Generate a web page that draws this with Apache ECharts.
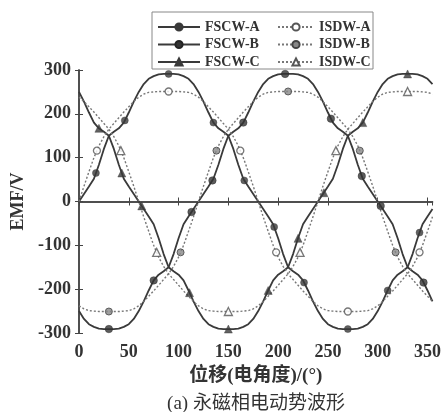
<!DOCTYPE html>
<html><head><meta charset="utf-8">
<script src="https://cdn.jsdelivr.net/npm/echarts@6/dist/echarts.min.js"></script>
<style>html,body{margin:0;padding:0;background:#fff}#c{width:444px;height:412px}</style>
</head><body><div id="c"></div>
<script>
// electrical angle (deg)
const angles = [0,5,10,15,20,25,30,35,40,45,50,55,60,65,70,75,80,85,90,95,100,105,110,115,120,125,130,135,140,145,150,155,160,165,170,175,180,185,190,195,200,205,210,215,220,225,230,235,240,245,250,255,260,265,270,275,280,285,290,295,300,305,310,315,320,325,330,335,340,345,350,355];
const xTicks = [0,50,100,150,200,250,300,350];
const yTicks = [-300,-200,-100,0,100,200,300];

const fscwA = [0,17,34,52,84,120,150,159,167,180,203,228,250,268,280,286,290,291,291,291,290,286,280,268,250,228,203,180,167,159,150,120,84,52,34,17,0,-17,-34,-52,-84,-120,-150,-159,-167,-180,-203,-228,-250,-268,-280,-286,-290,-291,-291,-291,-290,-286,-280,-268,-250,-228,-203,-180,-167,-159,-150,-120,-84,-52,-34,-17];
const fscwB = [-250,-268,-280,-286,-290,-291,-291,-291,-290,-286,-280,-268,-250,-228,-203,-180,-167,-159,-150,-120,-84,-52,-34,-17,0,17,34,52,84,120,150,159,167,180,203,228,250,268,280,286,290,291,291,291,290,286,280,268,250,228,203,180,167,159,150,120,84,52,34,17,0,-17,-34,-52,-84,-120,-150,-159,-167,-180,-203,-228];
const fscwC = [250,228,203,180,167,159,150,120,84,52,34,17,0,-17,-34,-52,-84,-120,-150,-159,-167,-180,-203,-228,-250,-268,-280,-286,-290,-291,-291,-291,-290,-286,-280,-268,-250,-228,-203,-180,-167,-159,-150,-120,-84,-52,-34,-17,0,17,34,52,84,120,150,159,167,180,203,228,250,268,280,286,290,291,291,291,290,286,280,268];
const isdwA = [0,35,68,100,127,148,165,178,191,204,216,228,238,245,249,250,251,251,251,251,251,250,249,245,238,228,216,204,191,178,165,148,127,100,68,35,0,-35,-68,-100,-127,-148,-165,-178,-191,-204,-216,-228,-238,-245,-249,-250,-251,-251,-251,-251,-251,-250,-249,-245,-238,-228,-216,-204,-191,-178,-165,-148,-127,-100,-68,-35];
const isdwB = [-238,-245,-249,-250,-251,-251,-251,-251,-251,-250,-249,-245,-238,-228,-216,-204,-191,-178,-165,-148,-127,-100,-68,-35,0,35,68,100,127,148,165,178,191,204,216,228,238,245,249,250,251,251,251,251,251,250,249,245,238,228,216,204,191,178,165,148,127,100,68,35,0,-35,-68,-100,-127,-148,-165,-178,-191,-204,-216,-228];
const isdwC = [238,228,216,204,191,178,165,148,127,100,68,35,0,-35,-68,-100,-127,-148,-165,-178,-191,-204,-216,-228,-238,-245,-249,-250,-251,-251,-251,-251,-251,-250,-249,-245,-238,-228,-216,-204,-191,-178,-165,-148,-127,-100,-68,-35,0,35,68,100,127,148,165,178,191,204,216,228,238,245,249,250,251,251,251,251,251,250,249,245];

// marker positions
const fscwAMarkX = [17,46,90,135,166,196,226,270,310,342];
const fscwAMarkY = [65,185,291,180,48,-58,-185,-291,-203,-71];
const fscwBMarkX = [30,75,113,134,165,207,253,284,303,346];
const fscwBMarkY = [-291,-180,-24,48,180,291,189,58,-10,-185];
const fscwCMarkX = [20,43,63,111,150,190,220,246,285,330];
const fscwCMarkY = [167,65,-10,-208,-291,-203,-84,20,180,291];
const isdwAMarkX = [18,90,162,198,270,342];
const isdwAMarkY = [116,251,116,-116,-251,-116];
const isdwBMarkX = [30,102,138,210,282,318];
const isdwBMarkY = [-251,-116,116,251,116,-116];
const isdwCMarkX = [42,78,150,222,258,330];
const isdwCMarkY = [116,-116,-251,-116,116,251];

const serif = "'Liberation Serif','Noto Sans CJK SC',serif";
const txt = '#333';
const solid = '#3a3a3a';
const dotc = '#777';

const defs = [
  {name:'FSCW-A', y:fscwA, mx:fscwAMarkX, my:fscwAMarkY, line:{color:solid,width:1.8,type:'solid'}, symbol:'circle', size:7, item:{color:'#3a3a3a',borderColor:'#3a3a3a',borderWidth:0.5}},
  {name:'FSCW-B', y:fscwB, mx:fscwBMarkX, my:fscwBMarkY, line:{color:solid,width:1.8,type:'solid'}, symbol:'circle', size:7.5, item:{color:'#333',borderColor:'#222',borderWidth:0.5}},
  {name:'FSCW-C', y:fscwC, mx:fscwCMarkX, my:fscwCMarkY, line:{color:solid,width:1.8,type:'solid'}, symbol:'triangle', size:8, item:{color:'#3a3a3a',borderColor:'#3a3a3a',borderWidth:0.5}},
  {name:'ISDW-A', y:isdwA, mx:isdwAMarkX, my:isdwAMarkY, line:{color:dotc,width:1.4,type:[2,2]}, symbol:'circle', size:7, item:{color:'#fff',borderColor:'#555',borderWidth:1.3}},
  {name:'ISDW-B', y:isdwB, mx:isdwBMarkX, my:isdwBMarkY, line:{color:dotc,width:1.4,type:[2,2]}, symbol:'circle', size:7, item:{color:'#888',borderColor:'#444',borderWidth:1}},
  {name:'ISDW-C', y:isdwC, mx:isdwCMarkX, my:isdwCMarkY, line:{color:dotc,width:1.4,type:[2,2]}, symbol:'triangle', size:8, item:{color:'#fff',borderColor:'#555',borderWidth:1.3}}
];

const series = [];
defs.forEach(d => {
  series.push({name:d.name, type:'line', data: angles.map((a,i)=>[a,d.y[i]]), showSymbol:false, symbol:d.symbol, symbolSize:d.size,
    lineStyle:d.line, itemStyle:d.item, z:2, silent:true});
});
defs.forEach(d => {
  series.push({name:d.name+' mark', type:'scatter', data: d.mx.map((x,i)=>[x,d.my[i]]), symbol:d.symbol, symbolSize:d.size,
    itemStyle:d.item, z:4, silent:true});
});

const labelStyle = {fontFamily:serif, fontWeight:'bold', fontSize:18, color:txt};
const axLine = {show:true, lineStyle:{color:'#444', width:1.5}};
const axTick = {show:true, inside:true, length:4, lineStyle:{color:'#444', width:1}};

const legendText = {fontFamily:serif, fontWeight:'bold', fontSize:14, color:txt, lineHeight:14};

const option = {
  animation:false,
  backgroundColor:'#fff',
  grid:{left:79, right:10, top:70, bottom:79},
  legend:[
    {data:['FSCW-A','FSCW-B','FSCW-C'], orient:'vertical', left:157, top:20, padding:0, itemWidth:42, itemHeight:9, itemGap:3.5, textStyle:legendText, selectedMode:false},
    {data:['ISDW-A','ISDW-B','ISDW-C'], orient:'vertical', left:277, top:20, padding:0, itemWidth:36, itemHeight:9, itemGap:3.5, textStyle:legendText, selectedMode:false}
  ],
  graphic:[
    {type:'rect', shape:{x:152, y:12, width:221, height:57}, style:{fill:'none', stroke:'#888', lineWidth:1}, silent:true, z:0},
    {type:'text', x:256, y:404, style:{text:'(a) 永磁相电动势波形', fontFamily:serif, fontSize:19, fill:txt, align:'center', verticalAlign:'middle'}, silent:true}
  ],
  xAxis:[
    {type:'value', min:xTicks[0], max:355, interval:50, position:'bottom', axisLine:axLine, axisTick:axTick,
      axisLabel:Object.assign({margin:10, showMaxLabel:false}, labelStyle), splitLine:{show:false},
      name:'位移(电角度)/(°)', nameLocation:'middle', nameGap:34, nameTextStyle:{fontFamily:serif, fontWeight:'bold', fontSize:19, color:txt}},
    {type:'value', min:xTicks[0], max:355, interval:50, position:'top', axisLine:axLine, axisTick:axTick, axisLabel:{show:false}, splitLine:{show:false}}
  ],
  yAxis:[
    {type:'value', min:yTicks[0], max:yTicks[yTicks.length-1], interval:100, position:'left', axisLine:axLine, axisTick:axTick,
      axisLabel:Object.assign({margin:8}, labelStyle), splitLine:{show:false},
      name:'EMF/V', nameLocation:'middle', nameGap:50, nameTextStyle:{fontFamily:serif, fontWeight:'bold', fontSize:18, color:txt}},
    {type:'value', min:yTicks[0], max:yTicks[yTicks.length-1], interval:100, position:'right', axisLine:axLine, axisTick:axTick, axisLabel:{show:false}, splitLine:{show:false}}
  ],
  series:series
};
const chart = echarts.init(document.getElementById('c'), null, {renderer:'canvas'});
chart.setOption(option);
</script>
</body></html>
